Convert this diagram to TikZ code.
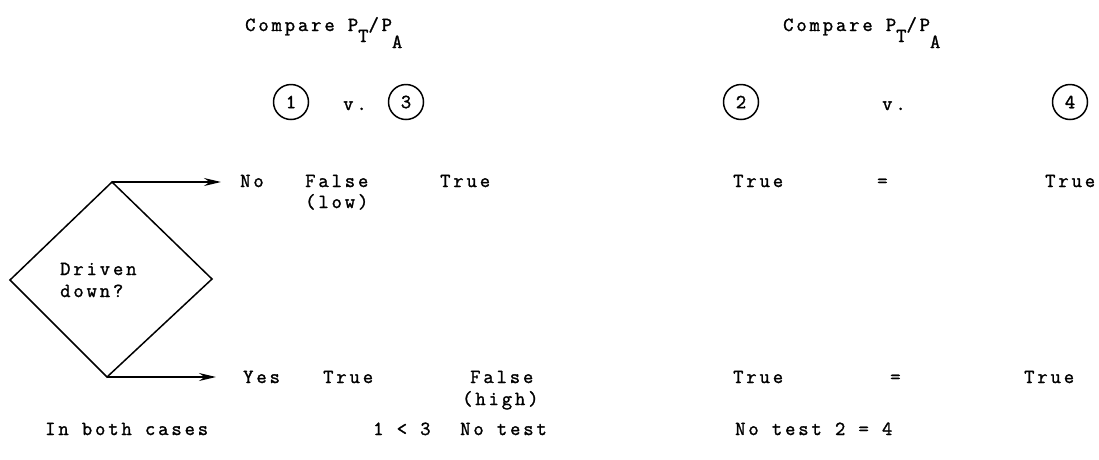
\documentclass[tikz,border=0pt]{standalone}
\usepackage{fontspec}
\setmonofont{Latin Modern Mono}[LetterSpace=14.5,FakeBold=1.5]
\usetikzlibrary{arrows.meta}
\begin{document}
\begin{tikzpicture}[x=1pt,y=-1pt,
  txt/.style={anchor=base west,inner sep=0pt,font=\ttfamily\fontsize{20}{22}\selectfont},
  num/.style={circle,draw,line width=1.5pt,minimum size=35pt,inner sep=0pt,font=\ttfamily\fontsize{20}{22}\selectfont},
  arr/.style={line width=1.4pt,-{Stealth[length=17pt,width=8pt]}},
  dia/.style={line width=1.5pt,line join=miter}]
\useasboundingbox (0,0) rectangle (1099,459);
% headers
\node[txt] (h1) at (245,31) {Compare P\raisebox{-11pt}{T}/P\raisebox{-17pt}{A}};
\node[txt] (h2) at (783,31) {Compare P\raisebox{-11pt}{T}/P\raisebox{-17pt}{A}};
% circled numbers
\node[num] (c1) at (291,102) {1};
\node[num] (c3) at (406,102) {3};
\node[num] (c2) at (741,102) {2};
\node[num] (c4) at (1070,102) {4};
\node[txt] (v1) at (343,110) {v.};
\node[txt] (v2) at (882,110) {v.};
% diamond
\coordinate (dt) at (112,182);
\coordinate (dr) at (212,279);
\coordinate (db) at (107,377);
\coordinate (dl) at (10,280);
\draw[dia] (dt) -- (dr) -- (db) -- (dl) -- cycle;
\node[txt] (q1) at (60,275) {Driven};
\node[txt] (q2) at (60,297) {down?};
% arrows
\coordinate (ano) at (221,182);
\coordinate (ayes) at (216,377);
\draw[arr] (dt) -- (ano);
\draw[arr] (db) -- (ayes);
% No row
\node[txt] (no) at (240,187) {No};
\node[txt] (f1) at (305,187) {False};
\node[txt] (low) at (305,208) {(low)};
\node[txt] (t3) at (440,187) {True};
\node[txt] (t2a) at (733,187) {True};
\node[txt] (eqa) at (877,187) {=};
\node[txt] (t4a) at (1045,187) {True};
% Yes row
\node[txt] (yes) at (243,383) {Yes};
\node[txt] (t1) at (323,383) {True};
\node[txt] (f3) at (470,383) {False};
\node[txt] (high) at (462,405) {(high)};
\node[txt] (t2b) at (733,383) {True};
\node[txt] (eqb) at (890,383) {=};
\node[txt] (t4b) at (1024,383) {True};
% bottom
\node[txt] (both) at (45,435) {In both cases};
\node[txt] (lt) at (373,435) {1 < 3};
\node[txt] (nt1) at (460,435) {No test};
\node[txt] (nt2) at (735,435) {No test 2 = 4};
\end{tikzpicture}
\end{document}
